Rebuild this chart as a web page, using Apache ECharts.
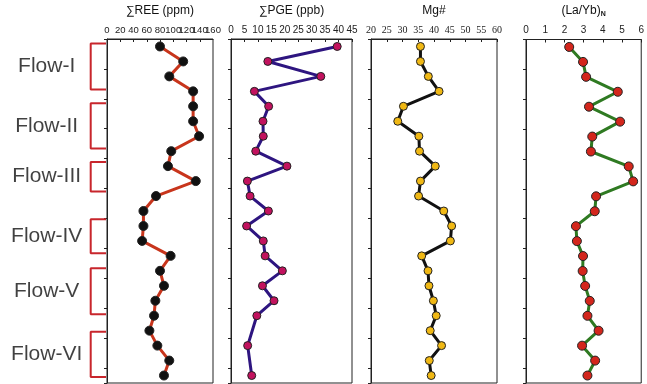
<!DOCTYPE html>
<html>
<head>
<meta charset="utf-8">
<script src="https://cdn.jsdelivr.net/npm/echarts@6/dist/echarts.min.js"></script>
<style>
  html, body { margin: 0; padding: 0; background: #fff; }
  #main { width: 647px; height: 384px; }
</style>
</head>
<body>
<div id="main"></div>
<script>
// samples from top to bottom of the section
var samples = ['S1','S2','S3','S4','S5','S6','S7','S8','S9','S10','S11','S12',
  'S13','S14','S15','S16','S17','S18','S19','S20','S21','S22','S23']

var reeData = [80, 115, 94, 130, 130, 130, 139, 97, 92, 134, 74,
  55, 55, 53, 96, 80, 86, 73, 71, 64, 76, 94, 86]
// PGE was not measured on two samples
var pgeData = [39.5, 13.7, 33.4, 8.7, 14, 11.9, 12, 9.2, 20.8, 6.1, 7.1,
  13.9, 5.8, 12, 12.7, 19.1, 11.7, 16, 9.6, null, 6.2, null, 7.7]
var mgData = [35.7, 35.7, 38.2, 41.6, 30.3, 28.5, 35.2, 35.4, 40.4, 35.7, 35.1,
  43.1, 45.6, 45.2, 36.1, 38.1, 38.4, 39.8, 40.7, 38.8, 42.4, 38.5, 39.1]
var laybData = [2.25, 2.97, 3.13, 4.78, 3.28, 4.9, 3.45, 3.38, 5.35, 5.58, 3.65,
  3.58, 2.6, 2.65, 2.97, 2.95, 3.08, 3.32, 3.2, 3.78, 2.92, 3.6, 3.2]

// lava flows, given as sample index ranges
var flowNames = ['Flow-I', 'Flow-II', 'Flow-III', 'Flow-IV', 'Flow-V', 'Flow-VI']
var flowStart = [0, 3.95, 7.85, 11.65, 14.9, 19.1]
var flowEnd = [3.05, 6.95, 9.8, 13.9, 17.95, 22.1]

var gridTop = 36, gridHeight = 347
var sans = 'Liberation Sans, Arial, sans-serif'

function grid(left, width) {
  return { left: left, width: width, top: gridTop, height: gridHeight, show: true,
    borderColor: '#222', borderWidth: 1, backgroundColor: '#fff' }
}
function xAx(i, name, min, max, interval, font, size) {
  return {
    gridIndex: i, type: 'value', position: 'top', min: min, max: max, interval: interval,
    name: name, nameLocation: 'middle', nameGap: 22,
    nameTextStyle: { fontFamily: sans, fontSize: 12, color: '#111' },
    axisLine: { show: true, lineStyle: { color: '#222' } },
    axisTick: { show: true, inside: true, length: 3, lineStyle: { color: '#222' } },
    axisLabel: { fontFamily: font || sans, fontSize: size || 10, color: '#222', margin: 4,
      hideOverlap: false, showMinLabel: true, showMaxLabel: true },
    splitLine: { show: false }
  }
}
function yAx(i) {
  return {
    gridIndex: i, type: 'category', data: samples, inverse: true, boundaryGap: true,
    axisLine: { show: true, lineStyle: { color: '#222' } },
    axisTick: { show: true, length: 3, lineStyle: { color: '#222' } },
    axisLabel: { show: false }
  }
}
function line(i, data, lineColor, dotColor, size) {
  return {
    type: 'line', xAxisIndex: i, yAxisIndex: i, data: data, connectNulls: true,
    symbol: 'circle', symbolSize: size,
    lineStyle: { color: lineColor, width: 3 },
    itemStyle: { color: dotColor, borderColor: '#222', borderWidth: 1 },
    z: 3
  }
}

// brackets and flow labels in a blank strip left of the first panel
var bracketSeries = []
var labelData = []
flowNames.forEach(function (name, k) {
  bracketSeries.push({
    type: 'line', xAxisIndex: 4, yAxisIndex: 4, symbol: 'none', silent: true,
    lineStyle: { color: '#c8262c', width: 2 },
    data: [[1, flowStart[k]], [0, flowStart[k]], [0, flowEnd[k]], [1, flowEnd[k]]]
  })
  labelData.push({ value: [0, (flowStart[k] + flowEnd[k]) / 2], name: name })
})

// REE labels are packed tight; echarts drops one of 140/160, so the last
// label goes on a twin axis with no line or ticks
var reeAxis = xAx(0, '∑REE (ppm)', 0, 160, 20, sans, 9.5)
reeAxis.axisLabel.showMaxLabel = false
var reeMaxAxis = xAx(0, '', 0, 160, 20, sans, 9.5)
reeMaxAxis.axisLine = { show: false }
reeMaxAxis.axisTick = { show: false }
reeMaxAxis.axisLabel.formatter = function (v) { return v === 160 ? '160' : '' }

var option = {
  animation: false,
  grid: [grid(107, 106), grid(231, 121), grid(371, 126), grid(526, 120),
    { left: 90.7, width: 15.3, top: gridTop, height: gridHeight, show: false }],
  xAxis: [
    reeAxis,
    xAx(1, '∑PGE (ppb)', 0, 45, 5),
    xAx(2, 'Mg#', 20, 60, 5, 'Liberation Serif, Times New Roman, serif'),
    xAx(3, '{a|(La/Yb)}{b|N}', 0, 6, 1),
    { gridIndex: 4, type: 'value', min: 0, max: 1, show: false },
    reeMaxAxis
  ],
  yAxis: [yAx(0), yAx(1), yAx(2), yAx(3),
    { gridIndex: 4, type: 'value', min: -0.5, max: 22.5, inverse: true, show: false }],
  series: [
    line(0, reeData, '#c8351c', '#111', 9),
    line(1, pgeData, '#2e1580', '#c2125e', 8),
    line(2, mgData, '#111', '#f0b814', 8),
    line(3, laybData, '#2f7a22', '#d3261c', 9),
    {
      type: 'scatter', xAxisIndex: 4, yAxisIndex: 4, symbolSize: 0, silent: true,
      data: labelData,
      label: { show: true, position: 'inside', offset: [-44, 0], formatter: '{b}',
        fontFamily: sans, fontSize: 21, color: '#111' }
    }
  ].concat(bracketSeries)
}
option.xAxis[3].nameTextStyle.rich = {
  a: { fontFamily: sans, fontSize: 12, color: '#111' },
  b: { fontFamily: sans, fontSize: 7, color: '#111', fontWeight: 'bold', verticalAlign: 'bottom', padding: [6, 0, 0, 0] }
}

var chart = echarts.init(document.getElementById('main'))
chart.setOption(option)
</script>
</body>
</html>
